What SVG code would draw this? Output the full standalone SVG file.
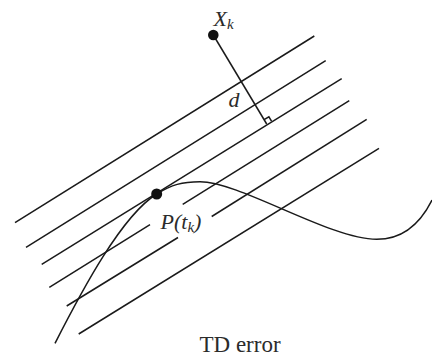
<svg xmlns="http://www.w3.org/2000/svg" width="432" height="362" viewBox="0 0 432 362">
<style>
.ln{stroke:#1a1a1a;stroke-width:1.5;fill:none;stroke-linecap:butt}
.lbl{font-family:"Liberation Serif",serif;font-style:italic;fill:#2b2b2b}
.cap{font-family:"Liberation Serif",serif;fill:#2b2b2b}
.dot{fill:#111}
</style>
<rect width="432" height="362" fill="#fff"/>
<g id="lines">
<line class="ln" x1="15" y1="222.7" x2="314.3" y2="36"/>
<line class="ln" x1="26" y1="247.3" x2="325.7" y2="60.7"/>
<line class="ln" x1="41.7" y1="264.3" x2="341.7" y2="78.7"/>
<line class="ln" x1="49.3" y1="287.3" x2="150" y2="224.6"/>
<line class="ln" x1="182.7" y1="204.4" x2="349.3" y2="100.7"/>
<line class="ln" x1="66.7" y1="306" x2="178" y2="237.5"/>
<line class="ln" x1="211.7" y1="216.5" x2="366.7" y2="119.3"/>
<line class="ln" x1="78.7" y1="334" x2="379" y2="148.3"/>
</g>
<g id="connectors">
<line class="ln" x1="213.3" y1="35" x2="266.7" y2="124"/>
<polyline class="ln" stroke-width="1" points="271.5,121.1 268.9,116.8 264.1,119.7"/>
</g>
<g id="curve">
<path class="ln" d="M55,343.3 C82.4,289.6 121.7,215.7 156.7,194 C171.7,184.7 182,181.7 200,181.7 C240,181.7 330,239.3 376.7,239.3 C398,239.3 418,228 432,200"/>
</g>
<g id="Xk">
<circle class="dot" cx="213.3" cy="35" r="5.3"/>
<text class="lbl" x="213.5" y="25.5" font-size="22">X<tspan font-size="15" dy="3">k</tspan></text>
</g>
<g id="d">
<text class="lbl" x="228.5" y="107.3" font-size="22">d</text>
</g>
<g id="Ptk">
<circle class="dot" cx="156.7" cy="194" r="5.5"/>
<text class="lbl" x="160.5" y="228.5" font-size="22">P(t<tspan font-size="15" dy="3">k</tspan><tspan dy="-3">)</tspan></text>
</g>
<g id="caption">
<text class="cap" x="199.5" y="351.5" font-size="23">TD error</text>
</g>
</svg>
